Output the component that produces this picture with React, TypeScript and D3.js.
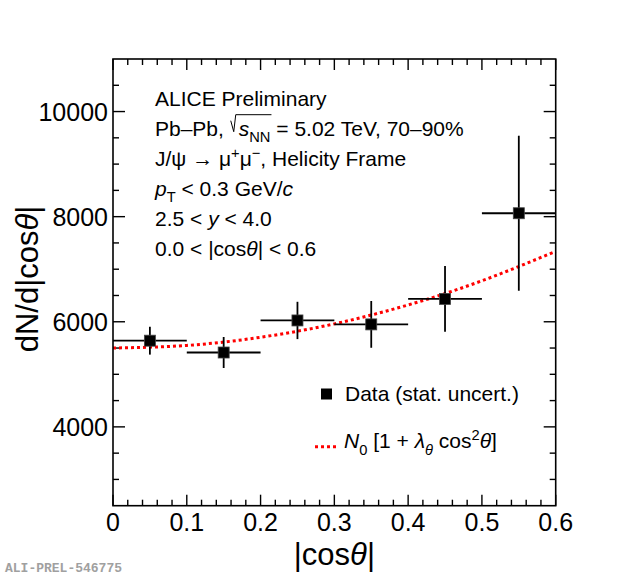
import React, { useEffect, useRef } from "react";
import * as d3 from "d3";

// measured |cos theta| bins (centre, half width) and yields
const binCenters = [0.05, 0.15, 0.25, 0.35, 0.45, 0.55];
const binHalfWidths = [0.05, 0.05, 0.05, 0.05, 0.05, 0.05];
const yields = [5640, 5415, 6025, 5950, 6435, 8065];
const statErrors = [265, 295, 355, 445, 625, 1475];

// fit curve N0 [1 + lambda cos^2 theta]
const fitCos = [0, 0.1, 0.2, 0.3, 0.4, 0.5, 0.6];
const fitYield = [5500, 5550, 5705, 5960, 6320, 6780, 7340];

const xTickValues = [0, 0.1, 0.2, 0.3, 0.4, 0.5, 0.6];
const xTickLabels = ["0", "0.1", "0.2", "0.3", "0.4", "0.5", "0.6"];
const yTickValues = [4000, 6000, 8000, 10000];
const yTickLabels = ["4000", "6000", "8000", "10000"];

type Seg = { t: string; it?: boolean; sub?: boolean; sup?: boolean; dx?: number };

const FONT = "'Liberation Sans', Arial, Helvetica, sans-serif";

// append a text element made of tspans (italics, sub/superscripts)
function rich(parent: any, x: number, y: number, segs: Seg[], size: number, anchor = "start") {
  const text = parent
    .append("text")
    .attr("x", x)
    .attr("y", y)
    .attr("font-family", FONT)
    .attr("font-size", size)
    .attr("text-anchor", anchor)
    .attr("fill", "#000");
  let shift = 0;
  segs.forEach((s) => {
    const want = s.sub ? size * 0.3 : s.sup ? -size * 0.38 : 0;
    const ts = text
      .append("tspan")
      .attr("dy", want - shift)
      .attr("font-size", s.sub || s.sup ? size * 0.7 : size)
      .attr("font-style", s.it ? "italic" : "normal")
      .text(s.t);
    if (s.dx) ts.attr("dx", s.dx);
    shift = want;
  });
  return text;
}

const App = () => {
  const svgRef = useRef(null);

  useEffect(() => {
    const W = 620;
    const H = 577;
    const svg = d3.select(svgRef.current);
    svg.selectAll("*").remove();
    svg.attr("width", W).attr("height", H).attr("viewBox", `0 0 ${W} ${H}`);

    const left = 113;
    const right = 555.7;
    const top = 59;
    const bottom = 505.7;

    const x = d3.scaleLinear().domain([0, 0.6]).range([left, right]);
    const y = d3.scaleLinear().domain([2500, 11000]).range([bottom, top]);

    svg.append("rect").attr("width", W).attr("height", H).attr("fill", "#fff");

    // ticks on all four sides, pointing inwards
    const ticks = svg.append("g").attr("stroke", "#000").attr("stroke-width", 1.4);
    const xMinor = d3.range(0, 0.6001, 0.02);
    xMinor.forEach((v) => {
      const major = Math.abs(v * 10 - Math.round(v * 10)) < 1e-6;
      const len = major ? 11 : 6;
      ticks.append("line").attr("x1", x(v)).attr("x2", x(v)).attr("y1", bottom).attr("y2", bottom - len);
      ticks.append("line").attr("x1", x(v)).attr("x2", x(v)).attr("y1", top).attr("y2", top + len);
    });
    const yMinor = d3.range(3000, 11000, 500);
    yMinor.forEach((v) => {
      const major = yTickValues.includes(v);
      const len = major ? 12 : 6;
      ticks.append("line").attr("x1", left).attr("x2", left + len).attr("y1", y(v)).attr("y2", y(v));
      ticks.append("line").attr("x1", right).attr("x2", right - len).attr("y1", y(v)).attr("y2", y(v));
    });

    // tick labels
    svg
      .append("g")
      .selectAll("text")
      .data(xTickValues)
      .join("text")
      .attr("x", (d) => x(d))
      .attr("y", 531)
      .attr("text-anchor", "middle")
      .attr("font-family", FONT)
      .attr("font-size", 25)
      .text((d, i) => xTickLabels[i]);
    svg
      .append("g")
      .selectAll("text")
      .data(yTickValues)
      .join("text")
      .attr("x", 108)
      .attr("y", (d) => y(d) + 9)
      .attr("text-anchor", "end")
      .attr("font-family", FONT)
      .attr("font-size", 25)
      .text((d, i) => yTickLabels[i]);

    // axis titles
    rich(svg, (left + right) / 2, 565, [{ t: "|cos" }, { t: "θ", it: true }, { t: "|" }], 31, "middle");
    const yTitle = svg.append("g").attr("transform", "translate(38,279) rotate(-90)");
    rich(yTitle, 0, 0, [{ t: "dN/d|cos" }, { t: "θ", it: true }, { t: "|" }], 31, "middle");

    // fit curve
    const fitLine = d3
      .line<number>()
      .x((d, i) => x(fitCos[i]))
      .y((d) => y(d))
      .curve(d3.curveNatural);
    svg
      .append("path")
      .datum(fitYield)
      .attr("fill", "none")
      .attr("stroke", "#ff0000")
      .attr("stroke-width", 3)
      .attr("stroke-dasharray", "3,3")
      .attr("d", fitLine);

    // data points with stat. uncertainties
    const pts = svg
      .append("g")
      .selectAll("g")
      .data(yields)
      .join("g");
    pts
      .append("line")
      .attr("x1", (d, i) => x(binCenters[i] - binHalfWidths[i]))
      .attr("x2", (d, i) => x(binCenters[i] + binHalfWidths[i]))
      .attr("y1", (d) => y(d))
      .attr("y2", (d) => y(d))
      .attr("stroke", "#000")
      .attr("stroke-width", 1.8);
    pts
      .append("line")
      .attr("x1", (d, i) => x(binCenters[i]))
      .attr("x2", (d, i) => x(binCenters[i]))
      .attr("y1", (d, i) => y(d - statErrors[i]))
      .attr("y2", (d, i) => y(d + statErrors[i]))
      .attr("stroke", "#000")
      .attr("stroke-width", 1.8);
    pts
      .append("rect")
      .attr("x", (d, i) => x(binCenters[i]) - 5.5)
      .attr("y", (d) => y(d) - 5.5)
      .attr("width", 11)
      .attr("height", 11)
      .attr("fill", "#000")
      .attr("stroke", "#444")
      .attr("stroke-width", 0.8);

    // frame
    svg
      .append("rect")
      .attr("x", left)
      .attr("y", top)
      .attr("width", right - left)
      .attr("height", bottom - top)
      .attr("fill", "none")
      .attr("stroke", "#000")
      .attr("stroke-width", 1.6);

    // info text block
    const tx = 155;
    const t0 = 105.7;
    const dl = 30;
    const fs = 21;
    rich(svg, tx, t0, [{ t: "ALICE Preliminary" }], fs);
    const line2 = rich(
      svg,
      tx,
      t0 + dl,
      [{ t: "Pb–Pb, " }, { t: "s", it: true, dx: 9 }, { t: "NN", sub: true }, { t: " = 5.02 TeV, 70–90%" }],
      fs,
    );
    // radical sign over s_NN
    const node = line2.node() as any;
    try {
      const sStart = node.getStartPositionOfChar(7).x;
      const nnEnd = node.getEndPositionOfChar(9).x;
      const b = t0 + dl;
      svg
        .append("path")
        .attr(
          "d",
          `M${sStart - 8},${b - 15} L${sStart - 5},${b - 4} L${sStart - 3},${b - 21} L${nnEnd + 1},${b - 21}`,
        )
        .attr("fill", "none")
        .attr("stroke", "#000")
        .attr("stroke-width", 1);
    } catch (e) {
      // measuring not available
    }
    rich(
      svg,
      tx,
      t0 + 2 * dl,
      [{ t: "J/ψ → μ" }, { t: "+", sup: true }, { t: "μ" }, { t: "−", sup: true }, { t: ", Helicity Frame" }],
      fs,
    );
    rich(svg, tx, t0 + 3 * dl, [{ t: "p", it: true }, { t: "T", sub: true }, { t: " < 0.3 GeV/" }, { t: "c", it: true }], fs);
    rich(svg, tx, t0 + 4 * dl, [{ t: "2.5 < " }, { t: "y", it: true }, { t: " < 4.0" }], fs);
    rich(svg, tx, t0 + 5 * dl, [{ t: "0.0 < |cos" }, { t: "θ", it: true }, { t: "| < 0.6" }], fs);

    // legend
    svg.append("rect").attr("x", 321).attr("y", 388.5).attr("width", 11).attr("height", 11).attr("fill", "#000");
    rich(svg, 345, 400.5, [{ t: "Data (stat. uncert.)" }], fs);
    svg
      .append("line")
      .attr("x1", 315)
      .attr("x2", 338)
      .attr("y1", 446.7)
      .attr("y2", 446.7)
      .attr("stroke", "#ff0000")
      .attr("stroke-width", 3)
      .attr("stroke-dasharray", "3,3");
    rich(
      svg,
      344,
      448.3,
      [
        { t: "N", it: true },
        { t: "0", sub: true },
        { t: " [1 + " },
        { t: "λ", it: true },
        { t: "θ", it: true, sub: true },
        { t: " cos" },
        { t: "2", sup: true },
        { t: "θ", it: true },
        { t: "]" },
      ],
      fs,
    );

    // preliminary id
    svg
      .append("text")
      .attr("x", 5)
      .attr("y", 572)
      .attr("font-family", "'Liberation Mono', 'DejaVu Sans Mono', monospace")
      .attr("font-weight", "bold")
      .attr("font-size", 13)
      .attr("fill", "#a0a0a0")
      .text("ALI-PREL-546775");
  }, []);

  return (
    <svg
      ref={svgRef}
      style={{ position: "absolute", left: 0, top: 0, display: "block" }}
      width={620}
      height={577}
    />
  );
};

export default App;
